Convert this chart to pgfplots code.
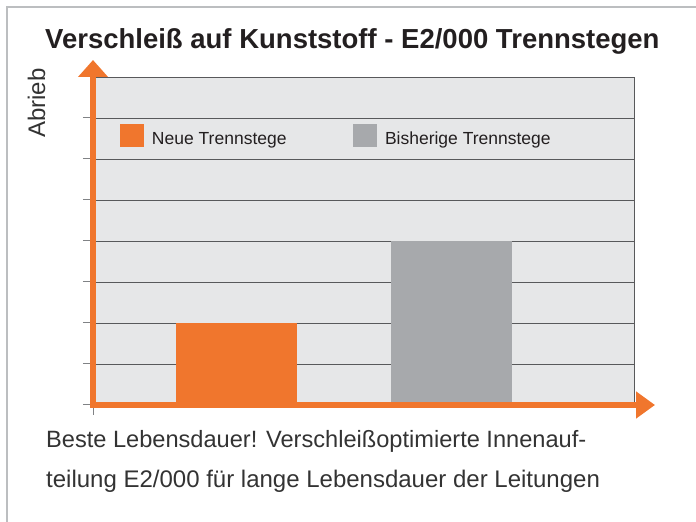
\documentclass[border=0pt]{standalone}
\usepackage{fontspec}
\setmainfont{Liberation Sans}
\usepackage{pgfplots}
\pgfplotsset{compat=1.18}
\usetikzlibrary{arrows.meta}
\definecolor{ior}{RGB}{240,118,45}
\definecolor{barg}{HTML}{A7A9AC}
\definecolor{bgg}{HTML}{E6E7E8}
\definecolor{gridg}{HTML}{58595B}
\definecolor{tickg}{HTML}{808285}
\definecolor{frameg}{HTML}{BCBEC0}
\definecolor{tblack}{HTML}{231F20}
\definecolor{bodyt}{HTML}{333333}
\begin{document}
\begin{tikzpicture}[x=1bp,y=1bp]
\useasboundingbox (0,0) rectangle (696,522);
\draw[frameg, line width=2bp] (7,0) -- (7,515) -- (696,515);
\node[anchor=base west, inner sep=0pt, text=tblack, font=\fontsize{27.5bp}{30bp}\selectfont\bfseries] at (45,473) {Verschleiß auf Kunststoff - E2/000 Trennstegen};
\node[rotate=90, anchor=base west, inner sep=0pt, text=bodyt, font=\fontsize{24bp}{28bp}\selectfont] at (45,384) {Abrieb};
\begin{axis}[
  at={(93bp,117bp)}, anchor=south west,
  scale only axis, width=541bp, height=328bp,
  xmin=0.3326, xmax=2.849, ymin=0, ymax=8,
  axis background/.style={fill=bgg},
  axis line style={draw=none},
  ytick={0,...,7}, yticklabels={},
  xtick={0.3326}, xticklabels={},
  ytick pos=left, xtick pos=bottom,
  tick align=outside, major tick length=10bp,
  tick style={draw=tickg, line width=1bp},
  ymajorgrids, major grid style={draw=gridg, line width=0.9bp},
  legend columns=2,
  legend style={at={(0.0499,0.8216)}, anchor=west, draw=none, fill=none,
    inner sep=0pt, outer sep=0pt, nodes={inner sep=0pt, text=tblack},
    font=\fontsize{17.5bp}{20bp}\selectfont,
    /tikz/column 1/.style={column sep=8bp},
    /tikz/column 3/.style={column sep=8bp}},
  legend image code/.code={\fill[#1] (0bp,-8bp) rectangle (24bp,15bp);},
]
\addplot[ybar, bar width=0.5628, bar shift=0pt, fill=ior, draw=none] coordinates {(1,2)};
\addlegendentry{\makebox[201bp][l]{Neue Trennstege}}
\addplot[ybar, bar width=0.5628, bar shift=0pt, fill=barg, draw=none] coordinates {(2,4)};
\addlegendentry{Bisherige Trennstege}
\coordinate (SW) at (rel axis cs:0,0);
\coordinate (NE) at (rel axis cs:1,1);
\end{axis}
\draw[gridg, line width=0.9bp] (SW |- NE) -- (NE) -- (NE |- SW);
\draw[ior, line width=6bp, -{Triangle[width=29bp,length=17bp]}] ([yshift=-3bp]SW) -- ([yshift=17bp]SW |- NE);
\draw[ior, line width=6bp, -{Triangle[width=26bp,length=19bp]}] ([xshift=-3bp]SW) -- ([xshift=21bp]NE |- SW);
\node[anchor=base west, inner sep=0pt, text=bodyt, font=\fontsize{23.6bp}{28bp}\selectfont] at (46,74) {Beste Lebensdauer! Verschleißoptimierte Innenauf-};
\node[anchor=base west, inner sep=0pt, text=bodyt, font=\fontsize{24bp}{28bp}\selectfont] at (46,34) {teilung E2/000 für lange Lebensdauer der Leitungen};
\end{tikzpicture}
\end{document}
